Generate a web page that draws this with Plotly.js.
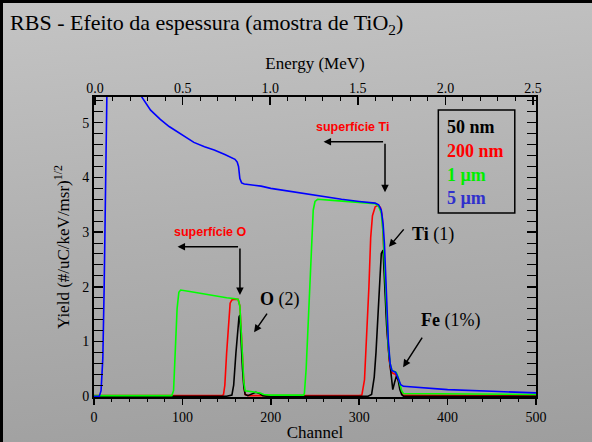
<!DOCTYPE html>
<html>
<head>
<meta charset="utf-8">
<script src="https://cdn.plot.ly/plotly-3.0.1.min.js"></script>
<style>
  html, body { margin: 0; padding: 0; }
  #wrap {
    width: 592px; height: 442px; box-sizing: border-box;
    border-left: 3px solid #000; border-top: 3px solid #000;
    background: linear-gradient(175deg, #c4c4c4 0%, #b0b0b0 50%, #9e9e9e 100%);
    overflow: hidden;
  }
  #chart { width: 589px; height: 439px; }
</style>
</head>
<body>
<div id="wrap"><div id="chart"></div></div>
<script>
// ---- Data ----
const seriesNames = ['50 nm', '200 nm', '1 µm', '5 µm'];
const seriesColors = ['#000000', '#ff0000', '#00ff00', '#0000ff'];
const legendColors = ['#000000', '#ff0000', '#00ee00', '#3030cc'];

// 50 nm (black)
const ch50 = [0, 150, 156, 158, 160.5, 162.5, 164, 165, 166, 168, 169.5, 171, 174, 179, 183, 187, 191, 195, 310, 314, 317, 319, 321, 323, 325, 327, 329, 331, 333.5, 336, 338, 340, 342, 344, 346, 348, 350, 500];
const y50  = [0, 0, 0.02, 0.2, 0.78, 1.2, 1.45, 1.48, 1.1, 0.5, 0.17, 0.03, 0.01, 0.05, 0.07, 0.05, 0.01, 0, 0, 0.03, 0.35, 0.8, 1.39, 2.0, 2.61, 2.67, 2.0, 1.3, 0.78, 0.35, 0.12, 0.25, 0.36, 0.3, 0.12, 0.03, 0, 0];

// 200 nm (red)
const ch200 = [0, 145, 146.5, 148, 150, 152, 154, 156, 158, 163, 165, 166.5, 168, 169.5, 171, 175, 300, 303, 306, 309, 311, 313, 315, 318, 321, 324, 326, 328, 330, 332, 334, 336, 338, 341, 344, 347, 349, 500];
const y200  = [0.01, 0.01, 0.03, 0.2, 0.78, 1.3, 1.7, 1.76, 1.77, 1.77, 1.65, 1.2, 0.7, 0.2, 0.03, 0.01, 0.01, 0.02, 0.3, 1.2, 2.0, 2.9, 3.3, 3.46, 3.49, 3.45, 3.3, 2.6, 1.8, 1.1, 0.65, 0.45, 0.42, 0.4, 0.3, 0.1, 0.02, 0.01];

// 1 µm (green)
const ch1 = [0, 88, 90, 92, 94, 96, 98, 110, 120, 130, 140, 150, 160, 163, 165, 166.5, 168, 169.5, 171, 175, 180, 184, 188, 192, 200, 237, 238, 240, 243, 246, 248, 250, 253, 270, 290, 310, 318, 322, 325, 327, 329, 331, 333, 335, 337, 340, 342, 344, 346, 348, 350, 400, 500];
const y1  = [0.01, 0.01, 0.1, 0.8, 1.6, 1.9, 1.94, 1.91, 1.88, 1.85, 1.83, 1.8, 1.78, 1.77, 1.65, 1.2, 0.7, 0.25, 0.1, 0.09, 0.08, 0.08, 0.06, 0.03, 0.02, 0.02, 0.05, 0.5, 1.6, 2.8, 3.4, 3.56, 3.6, 3.58, 3.56, 3.54, 3.52, 3.47, 3.35, 3.0, 2.3, 1.5, 0.9, 0.6, 0.47, 0.45, 0.43, 0.35, 0.22, 0.1, 0.05, 0.04, 0.03];

// 5 µm (blue)
const ch5 = [0, 6, 8, 10, 11.5, 12.5, 13.5, 15, 20, 30, 42, 54, 64, 75, 85, 94.5, 103, 113, 125, 136, 148, 159.5, 162, 163.5, 165, 167, 170, 180, 189, 200, 212, 223, 240, 260, 280, 300, 318, 322, 325, 327, 328.5, 330, 331.5, 333, 335, 337, 339, 341, 343, 345, 347, 350, 360, 400, 450, 500];
const y5  = [0, 0, 0.1, 0.7, 2.0, 3.2, 4.5, 6.0, 7.0, 6.8, 6.1, 5.47, 5.23, 5.06, 4.93, 4.83, 4.73, 4.64, 4.56, 4.5, 4.42, 4.33, 4.28, 4.2, 3.98, 3.9, 3.88, 3.86, 3.84, 3.8, 3.77, 3.73, 3.69, 3.64, 3.6, 3.56, 3.53, 3.5, 3.4, 3.15, 2.8, 2.2, 1.5, 1.0, 0.6, 0.47, 0.45, 0.44, 0.37, 0.28, 0.21, 0.18, 0.17, 0.12, 0.09, 0.06];

const xs = [ch50, ch200, ch1, ch5];
const ys = [y50, y200, y1, y5];
const drawOrder = [1, 0, 2, 3];

const serif = 'Liberation Serif, Times New Roman, serif';
const sans = 'Liberation Sans, Arial, sans-serif';

const traces = drawOrder.map(i => ({
  x: xs[i], y: ys[i], type: 'scatter', mode: 'lines', name: seriesNames[i],
  line: { color: seriesColors[i], width: 1.6 }, showlegend: false,
  xaxis: 'x', yaxis: 'y'
}));
// invisible trace to activate top energy axis
traces.push({ x: [0, 2.5], y: [0, 0], type: 'scatter', mode: 'lines', xaxis: 'x2', yaxis: 'y',
  line: { width: 0 }, hoverinfo: 'skip', showlegend: false, opacity: 0 });

const legendY = [0.9, 0.82, 0.74, 0.663];
const annotations = seriesNames.map((n, i) => ({
  xref: 'paper', yref: 'paper', x: 0.795, y: legendY[i], xanchor: 'left', yanchor: 'middle',
  text: '<b>' + n + '</b>', showarrow: false,
  font: { family: serif, size: 18, color: legendColors[i] }
}));

const arrowBase = { showarrow: true, arrowhead: 2, arrowsize: 1, arrowwidth: 1.5, arrowcolor: '#000', text: '', axref: 'pixel', ayref: 'pixel', standoff: 0, startstandoff: 0 };
annotations.push(
  { x: 292.7, y: 4.92, text: '<b>superfície Ti</b>', showarrow: false, font: { family: sans, size: 12.5, color: '#ff0000' } },
  Object.assign({}, arrowBase, { x: 259.7, y: 4.65, ax: 61, ay: 0 }),
  Object.assign({}, arrowBase, { x: 329.2, y: 3.73, ax: 0, ay: -50 }),
  { x: 132.1, y: 3.0, text: '<b>superfície O</b>', showarrow: false, font: { family: sans, size: 12.5, color: '#ff0000' } },
  Object.assign({}, arrowBase, { x: 94.5, y: 2.73, ax: 62, ay: 0 }),
  Object.assign({}, arrowBase, { x: 165.1, y: 1.85, ax: 0, ay: -48 }),
  { x: 357.6, y: 2.95, xanchor: 'left', text: '<b>Ti</b> (1)', showarrow: false, font: { family: serif, size: 18, color: '#000' } },
  Object.assign({}, arrowBase, { x: 333.7, y: 2.73, ax: 16, ay: -19 }),
  { x: 185.6, y: 1.76, xanchor: 'left', text: '<b>O</b> (2)', showarrow: false, font: { family: serif, size: 18, color: '#000' } },
  Object.assign({}, arrowBase, { x: 181.1, y: 1.17, ax: 14, ay: -20 }),
  { x: 367.9, y: 1.39, xanchor: 'left', text: '<b>Fe</b> (1%)', showarrow: false, font: { family: serif, size: 18, color: '#000' } },
  Object.assign({}, arrowBase, { x: 349.7, y: 0.53, ax: 20, ay: -31 })
);

const layout = {
  width: 589, height: 439,
  margin: { l: 91, r: 56, t: 94, b: 45, pad: 0 },
  paper_bgcolor: 'rgba(0,0,0,0)', plot_bgcolor: 'rgba(0,0,0,0)',
  font: { family: serif, size: 14, color: '#000' },
  title: { text: 'RBS - Efeito da espessura (amostra de TiO<sub>2</sub>)', font: { family: serif, size: 22, color: '#000' },
    x: 0.012, xanchor: 'left', xref: 'container', y: 0.955, yanchor: 'middle', yref: 'container' },
  xaxis: {
    range: [0, 500], dtick: 100, tick0: 0, ticks: 'outside', ticklen: 6, tickwidth: 1.5, tickcolor: '#000',
    showline: true, linewidth: 2, linecolor: '#000', mirror: true, showgrid: false, zeroline: false,
    minor: { dtick: 20, ticks: 'outside', ticklen: 3, tickwidth: 1, tickcolor: '#000' },
    title: { text: 'Channel', font: { size: 17 }, standoff: 5 }, tickfont: { size: 14 }
  },
  xaxis2: {
    overlaying: 'x', side: 'top', anchor: 'y', range: [-0.006, 2.517], dtick: 0.5, tick0: 0, tickformat: '.1f',
    ticks: 'inside', ticklen: 8, tickwidth: 1.5, tickcolor: '#000', ticklabelstandoff: -4,
    showline: true, linewidth: 2, linecolor: '#000', showgrid: false, zeroline: false,
    minor: { dtick: 0.1, ticks: 'inside', ticklen: 4, tickwidth: 1, tickcolor: '#000' },
    title: { text: 'Energy (MeV)', font: { size: 17 }, standoff: 7 }, tickfont: { size: 14 }
  },
  yaxis: {
    range: [-0.015, 5.47], dtick: 1, tick0: 0, ticks: 'inside', ticklen: 9, tickwidth: 1.5, tickcolor: '#000',
    showline: true, linewidth: 2, linecolor: '#000', mirror: 'allticks', showgrid: false, zeroline: false,
    minor: { dtick: 0.2, ticks: 'inside', ticklen: 5, tickwidth: 1, tickcolor: '#000' },
    title: { text: 'Yield (#/uC/keV/msr)<sup>1/2</sup>', font: { size: 17 }, standoff: 8 }, tickfont: { size: 14 }
  },
  shapes: [{ type: 'rect', xref: 'paper', yref: 'paper', x0: 0.779, x1: 0.952, y0: 0.613, y1: 0.957,
    line: { color: '#000', width: 1.5 }, fillcolor: 'rgba(0,0,0,0)' }],
  annotations: annotations
};

Plotly.newPlot('chart', traces, layout, { displayModeBar: false, staticPlot: true });
</script>
</body>
</html>
